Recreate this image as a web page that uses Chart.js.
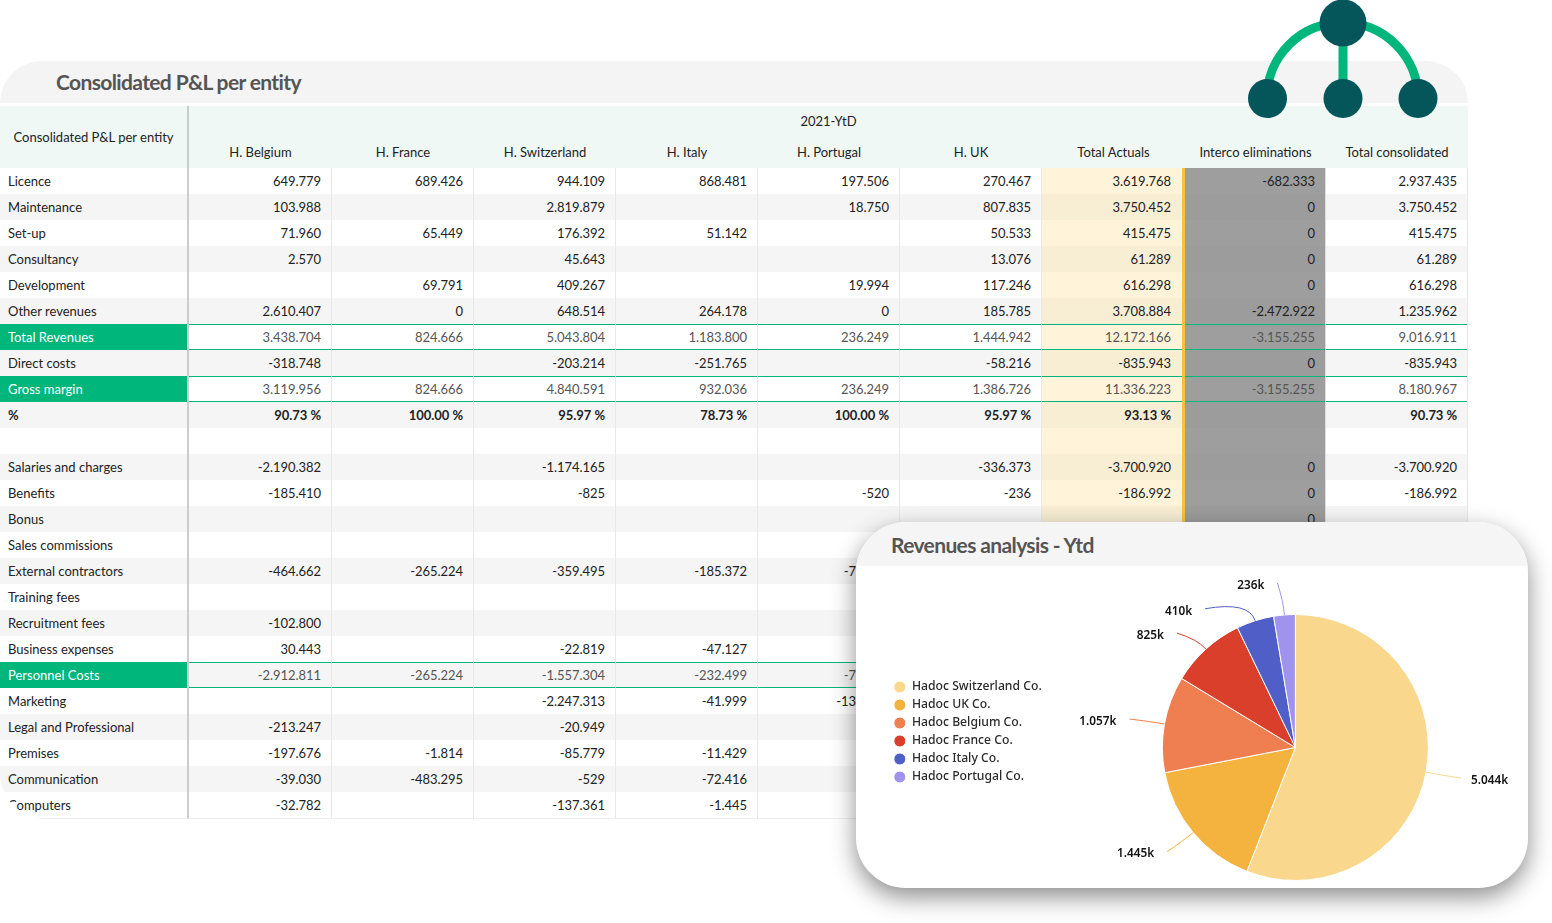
<!DOCTYPE html>
<html><head><meta charset="utf-8">
<script src="https://cdn.jsdelivr.net/npm/chart.js@4/dist/chart.umd.min.js"></script>
<style>
html,body{margin:0;padding:0;background:#fff;width:1552px;height:923px;overflow:hidden;font-family:Lato,sans-serif}
#panelHead{position:absolute;left:0;top:61px;width:1468px;height:42px;background:#f4f4f4;border-radius:50px 50px 0 0}
#panelHead span{position:absolute;left:56px;top:7px;font:bold 21px/28px Lato;color:#555;letter-spacing:-.63px}
#plWrap{position:absolute;left:0;top:106px;width:1468px;height:713px;overflow:hidden;border-bottom-left-radius:46px}
#pl{position:absolute;left:0;top:0;border-collapse:separate;border-spacing:0;table-layout:fixed;width:1468px;font:13px Lato;color:#222}
#pl th{font-weight:normal;background:#eff8f5;text-align:center;padding:0;box-sizing:border-box;vertical-align:top}
#pl td{height:26px;box-sizing:border-box;padding:0 10px 0 0;text-align:right;border-right:1px solid #e8e8e8;white-space:nowrap;line-height:26px;background:#fff;letter-spacing:-.05px}
#pl td.lab{text-align:left;padding:0 0 0 8px;border-right:2px solid #ccc;letter-spacing:0}
#pl th.lab{border-right:2px solid #ccc;vertical-align:middle}
#pl tr.alt td{background:#f5f5f5}
#pl td.act{background:#fff4d9;border-right:3px solid #f7c23e;padding-right:11px}
#pl tr.alt td.act{background:#f7eed4}
#pl td.ico{background:#9e9e9e;border-right:1px solid #ddd}
#pl tr.alt td.ico{background:#9c9c9c}
#pl tr.tot td{color:#555;box-shadow:inset 0 1px #00b67a,inset 0 -1px #00b67a}
#pl tr.tot td.lab{background:#00b67a;color:#fff;box-shadow:none}
#pl tr.bold td{font-weight:bold}
#pl tr:last-child td{border-bottom:1px solid #eee}
.hTop{display:block;line-height:16px;padding-top:7px}
.hCol{display:block;line-height:16px;padding-top:7px}
#icon{position:absolute;left:0;top:0}
#card{position:absolute;left:856px;top:522px;width:672px;height:366px;background:#fff;border-radius:50px;box-shadow:0 9px 24px rgba(0,0,0,.45);overflow:hidden}
#cardHead{position:absolute;left:0;top:0;width:672px;height:44px;background:#f5f5f5}
#cardHead span{position:absolute;left:35px;top:9px;font:bold 21px/28px Lato;color:#555;letter-spacing:-.63px}
#pie{position:absolute;left:856px;top:567px}
</style></head><body>
<div id="panelHead"><span>Consolidated P&amp;L per entity</span></div>
<div id="plWrap"><table id="pl"><colgroup id="cols"></colgroup><thead id="th"></thead><tbody id="tb"></tbody></table></div>
<svg id="icon" width="1552" height="130"><path d="M1267 98A75.5 75.5 0 0 1 1418 98" fill="none" stroke="#00b67a" stroke-width="9"/><path d="M1343 23V98" stroke="#00b67a" stroke-width="9"/><circle cx="1343" cy="23" r="23.5" fill="#04565a"/><circle cx="1267.5" cy="98.5" r="19.5" fill="#04565a"/><circle cx="1343" cy="98.5" r="19.5" fill="#04565a"/><circle cx="1418" cy="98.5" r="19.5" fill="#04565a"/></svg>
<div id="card"><div id="cardHead"><span>Revenues analysis - Ytd</span></div></div>
<canvas id="pie" width="696" height="321"></canvas>
<script>
const tableTitle="Consolidated P&L per entity";
const periodLabel="2021-YtD";
const columnLabels=["H. Belgium","H. France","H. Switzerland","H. Italy","H. Portugal","H. UK","Total Actuals","Interco eliminations","Total consolidated"];
const columnWidths=[143,142,142,142,142,142,143,141,142];
const rowLicence=["Licence","649.779","689.426","944.109","868.481","197.506","270.467","3.619.768","-682.333","2.937.435"];
const rowMaintenance=["Maintenance","103.988","","2.819.879","","18.750","807.835","3.750.452","0","3.750.452"];
const rowSetup=["Set-up","71.960","65.449","176.392","51.142","","50.533","415.475","0","415.475"];
const rowConsultancy=["Consultancy","2.570","","45.643","","","13.076","61.289","0","61.289"];
const rowDevelopment=["Development","","69.791","409.267","","19.994","117.246","616.298","0","616.298"];
const rowOther=["Other revenues","2.610.407","0","648.514","264.178","0","185.785","3.708.884","-2.472.922","1.235.962"];
const rowTotalRev=["Total Revenues","3.438.704","824.666","5.043.804","1.183.800","236.249","1.444.942","12.172.166","-3.155.255","9.016.911"];
const rowDirect=["Direct costs","-318.748","","-203.214","-251.765","","-58.216","-835.943","0","-835.943"];
const rowGross=["Gross margin","3.119.956","824.666","4.840.591","932.036","236.249","1.386.726","11.336.223","-3.155.255","8.180.967"];
const rowPct=["%","90.73 %","100.00 %","95.97 %","78.73 %","100.00 %","95.97 %","93.13 %","","90.73 %"];
const rowBlank=["","","","","","","","","",""];
const rowSalaries=["Salaries and charges","-2.190.382","","-1.174.165","","","-336.373","-3.700.920","0","-3.700.920"];
const rowBenefits=["Benefits","-185.410","","-825","","-520","-236","-186.992","0","-186.992"];
const rowBonus=["Bonus","","","","","","","","0",""];
const rowSales=["Sales commissions","","","","","","","","",""];
const rowExternal=["External contractors","-464.662","-265.224","-359.495","-185.372","-72.310","","","",""];
const rowTraining=["Training fees","","","","","","","","",""];
const rowRecruit=["Recruitment fees","-102.800","","","","","","","",""];
const rowBusiness=["Business expenses","30.443","","-22.819","-47.127","","","","",""];
const rowPersonnel=["Personnel Costs","-2.912.811","-265.224","-1.557.304","-232.499","-72.310","","","",""];
const rowMarketing=["Marketing","","","-2.247.313","-41.999","-133.420","","","",""];
const rowLegal=["Legal and Professional","-213.247","","-20.949","","","","","",""];
const rowPremises=["Premises","-197.676","-1.814","-85.779","-11.429","","","","",""];
const rowComm=["Communication","-39.030","-483.295","-529","-72.416","","","","",""];
const rowComputers=["Computers","-32.782","","-137.361","-1.445","","","","",""];
const tableRows=[rowLicence,rowMaintenance,rowSetup,rowConsultancy,rowDevelopment,rowOther,rowTotalRev,rowDirect,rowGross,rowPct,rowBlank,rowSalaries,rowBenefits,rowBonus,rowSales,rowExternal,rowTraining,rowRecruit,rowBusiness,rowPersonnel,rowMarketing,rowLegal,rowPremises,rowComm,rowComputers];
const totalRowNames=["Total Revenues","Gross margin","Personnel Costs"];

const pieTitle="Revenues analysis - Ytd";
const pieEntities=["Hadoc Switzerland Co.","Hadoc UK Co.","Hadoc Belgium Co.","Hadoc France Co.","Hadoc Italy Co.","Hadoc Portugal Co."];
const pieValues=[5044,1445,1057,825,410,236];
const pieColors=["#f9d88e","#f4b33f","#ef7e50","#d93f2b","#4f5fc7","#a093ee"];
const leaderDx=[35,-26,-35,-29,-50,-7];
const leaderDy=[6,19,-5,-16,-12,-32];

// table
const esc=s=>s.replace(/&/g,"&amp;");
document.getElementById("cols").innerHTML='<col style="width:189px">'+columnWidths.map(w=>`<col style="width:${w}px">`).join("");
document.getElementById("th").innerHTML=
 `<tr style="height:31px"><th class="lab" rowspan="2">${esc(tableTitle)}</th><th colspan="9"><span class="hTop">${periodLabel}</span></th></tr>`+
 `<tr style="height:31px">`+columnLabels.map(c=>`<th><span class="hCol">${c}</span></th>`).join("")+`</tr>`;
document.getElementById("tb").innerHTML=tableRows.map((r,i)=>{
  const cls=[i%2?"alt":"",totalRowNames.includes(r[0])?"tot":"",r[0]==="%"?"bold":""].join(" ");
  return `<tr class="${cls}">`+r.map((v,j)=>`<td class="${j==0?"lab":j==7?"act":j==8?"ico":""}">${v}</td>`).join("")+`</tr>`;
}).join("");

// pie leader labels
const leaderLabels={id:"leaderLabels",afterDatasetsDraw(chart){
  const ctx=chart.ctx;
  chart.getDatasetMeta(0).data.forEach((arc,i)=>{
    const p=arc.getProps(["x","y","startAngle","endAngle","outerRadius"],true);
    const a=(p.startAngle+p.endAngle)/2;
    const ux=Math.cos(a),uy=Math.sin(a);
    const sx=p.x+ux*p.outerRadius,sy=p.y+uy*p.outerRadius;
    const ex=sx+leaderDx[i],ey=sy+leaderDy[i];
    const d=Math.hypot(leaderDx[i],leaderDy[i])*0.4;
    ctx.save();
    ctx.strokeStyle=pieColors[i];ctx.lineWidth=1;
    ctx.beginPath();ctx.moveTo(sx,sy);ctx.quadraticCurveTo(sx+ux*d,sy+uy*d,ex,ey);ctx.stroke();
    const right=ex>p.x;
    ctx.fillStyle="#111";ctx.font="600 11.8px 'Noto Sans'";
    ctx.textBaseline="middle";ctx.textAlign=right?"left":"right";
    const txt=pieValues[i].toLocaleString("de-DE")+"k";
    ctx.fillText(txt,ex+(right?10:-13),ey+2.5);
    ctx.restore();
  });
},afterLayout(chart){chart.legend.top-=15.5;chart.legend.bottom-=15.5;}};

new Chart(document.getElementById("pie"),{
  type:"pie",
  data:{labels:pieEntities,datasets:[{data:pieValues,backgroundColor:pieColors,borderColor:"#fff",borderWidth:1,radius:133}]},
  options:{responsive:false,animation:false,
    layout:{padding:{top:40,left:32,right:13,bottom:0}},
    plugins:{tooltip:{enabled:false},
      legend:{position:"left",align:"center",labels:{usePointStyle:true,pointStyle:"circle",pointStyleWidth:12,boxHeight:8.5,padding:5.8,color:"#2b2b2b",font:{family:"'Noto Sans'",size:12.2,weight:"500"}}}}},
  plugins:[leaderLabels]
});
</script>
</body></html>
